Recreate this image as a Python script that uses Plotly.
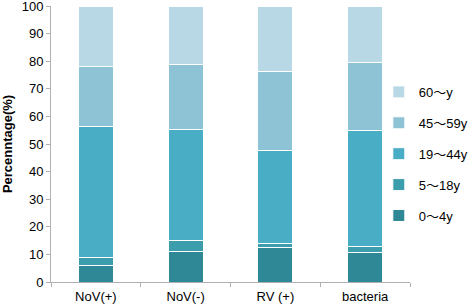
import plotly.graph_objects as go

categories = ["NoV(+)", "NoV(-)", "RV (+)", "bacteria"]
age_groups = ["0～4y", "5～18y", "19～44y", "45～59y", "60～y"]
# percentages per age group (stacked to 100)
p_0_4 = [5.8, 10.9, 12.5, 10.8]
p_5_18 = [3.2, 4.0, 1.4, 2.2]
p_19_44 = [47.5, 40.4, 33.6, 42.0]
p_45_59 = [21.5, 23.6, 28.7, 24.6]
p_60 = [22.0, 21.1, 23.8, 20.4]
series = [p_0_4, p_5_18, p_19_44, p_45_59, p_60]
colors = ["#2F8896", "#3C9DAD", "#4AADC6", "#8DC3D5", "#B9D8E5"]

fig = go.Figure()
for i, (name, vals, c) in enumerate(zip(age_groups, series, colors)):
    fig.add_trace(go.Bar(
        x=categories, y=vals, name=name, legendgroup=name,
        legendrank=1000 - i,
        marker=dict(color=c, line=dict(color="white", width=1)),
        width=0.39,
    ))

font = "Liberation Sans, Arial, Helvetica, Noto Sans CJK JP, sans-serif"
fig.update_layout(
    barmode="stack",
    width=473, height=305,
    margin=dict(l=51, r=63, t=6, b=23, autoexpand=False),
    plot_bgcolor="white", paper_bgcolor="white",
    font=dict(family=font, size=13, color="black"),
    legend=dict(traceorder="grouped", x=1.175, xanchor="right", y=0.743, yanchor="top",
                font=dict(size=13), tracegroupgap=11, itemwidth=30,
                bgcolor="rgba(0,0,0,0)"),
    xaxis=dict(showline=True, linecolor="#b0b0b0", linewidth=1, ticks="outside",
               tickson="boundaries", tickcolor="#b0b0b0", ticklen=4, automargin=False,
               tickfont=dict(size=13), showgrid=False, ticklabelstandoff=2),
    yaxis=dict(range=[0, 100], dtick=10, showline=True, linecolor="#b0b0b0", linewidth=1,
               ticks="outside", tickcolor="#b0b0b0", ticklen=4, showgrid=False,
               automargin=False, tickfont=dict(size=13), ticklabeloverflow="allow",
               title=dict(text="<b>Percenntage(%)</b>", font=dict(size=13), standoff=10)),
)
fig.write_html("out.html", config={"displayModeBar": False},
               post_script="document.body.style.margin='0px';")
